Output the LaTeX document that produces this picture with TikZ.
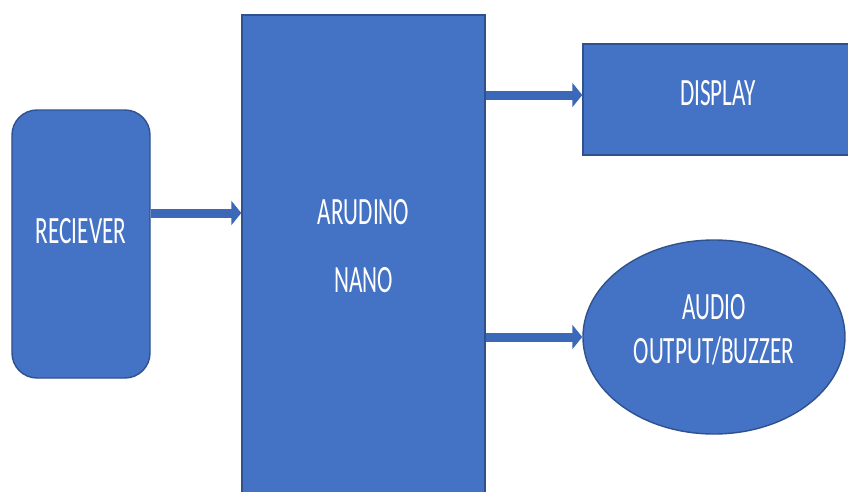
\documentclass[tikz,border=0pt]{standalone}
\usepackage{fontspec}
\newfontfamily\boxfont{Carlito}[FakeStretch=0.6]
\definecolor{boxblue}{HTML}{4472C4}
\definecolor{edgeblue}{HTML}{2F528F}
\definecolor{arrowblue}{HTML}{3C68B9}
\usetikzlibrary{arrows.meta,shapes.geometric}
\tikzset{
  block/.style={draw=edgeblue, line width=0.8pt, fill=boxblue, text=white,
    font=\boxfont\fontsize{22}{24}\selectfont, align=center, inner sep=0pt},
  conn/.style={arrowblue, line width=1.8mm,
    -{Triangle[width=4.8mm,length=2mm]}}
}
\begin{document}
\begin{tikzpicture}[x=0.2mm, y=-0.2mm]
\useasboundingbox (0,0) rectangle (848,491);
% box Receiver
\node[block, rounded corners=5mm, minimum width=27.6mm, minimum height=53.6mm]
  (recv) at (81,244) {\raisebox{5.2mm}{RECIEVER}};
% box Arduino Nano
\node[block, minimum width=48.6mm, minimum height=97mm,
  font=\boxfont\fontsize{22}{38.5}\selectfont]
  (ard) at (363.5,257.5) {\raisebox{4.6mm}{ARUDINO}\\\raisebox{4.6mm}{NANO}};
% box Display
\node[block, minimum width=54mm, minimum height=22.2mm]
  (disp) at (718,99.5) {\raisebox{2.8mm}{DISPLAY}};
%% ellipse Audio
\node[block, ellipse, minimum width=52.4mm, minimum height=38.8mm,
  font=\boxfont\fontsize{22}{22}\selectfont]
  (audio) at (714,337) {\raisebox{3.2mm}{AUDIO}\\\raisebox{3.2mm}{OUTPUT/BUZZER}};
\draw[conn] (recv.east |- 0,213) -- (ard.west |- 0,213);
\draw[conn] (ard.east |- 0,95) -- (disp.west |- 0,95);
\draw[conn] (ard.east |- audio.west) -- (audio.west);
\end{tikzpicture}
\end{document}
